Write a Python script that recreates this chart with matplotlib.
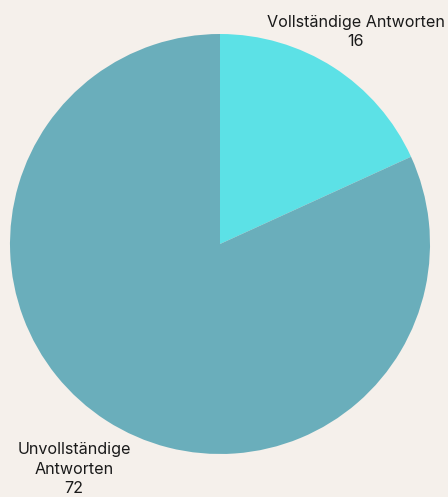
import matplotlib
matplotlib.use("Agg")
import matplotlib.pyplot as plt

labels = ["Vollständige Antworten", "Unvollständige\nAntworten"]
values = [16, 72]
colors = ["#5CE1E6", "#6AAEBB"]
BG = "#F5F0EB"

W, H = 448, 497
CX, CY, R = 220, 244, 210

fig = plt.figure(figsize=(W / 100, H / 100), dpi=100, facecolor=BG)
ax = fig.add_axes([0, 0, 1, 1])
ax.set_facecolor(BG)

ax.pie(values, colors=colors, startangle=90, counterclock=False,
       radius=1.0, wedgeprops=dict(linewidth=0))
ax.set_xlim(-CX / R, (W - CX) / R)
ax.set_ylim(-(H - CY) / R, CY / R)
ax.set_aspect("auto")
ax.axis("off")

# label positions in pixel coords (from top-left)
label_pos = [(356, 32), (74, 469)]
for (lab, val), (px, py) in zip(zip(labels, values), label_pos):
    fig.text(px / W, 1 - py / H, f"{lab}\n{val}", ha="center", va="center",
             fontsize=11.6, color="#1a1a1a", linespacing=1.35,
             family=["Inter", "DejaVu Sans"])

fig.savefig("out.png", dpi=100, facecolor=BG)
